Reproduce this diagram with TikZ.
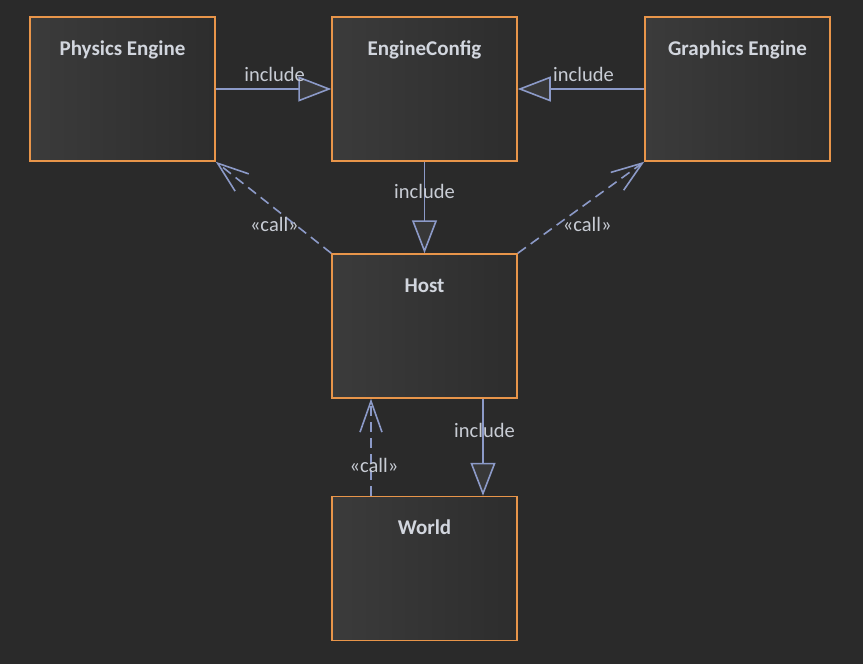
\documentclass[tikz,border=0pt]{standalone}
\usepackage{fontspec}
\setmainfont{Carlito}
\usepackage{xcolor}
\usepackage{tikz}
\usetikzlibrary{arrows.meta}
\definecolor{bgdark}{HTML}{2A2A2A}
\definecolor{boxedge}{HTML}{E8954A}
\definecolor{boxleft}{HTML}{3B3B3B}
\definecolor{boxright}{HTML}{2D2D2D}
\definecolor{tipfill}{HTML}{383838}
\definecolor{linkblue}{HTML}{8C9AC8}
\definecolor{titletext}{HTML}{D2D6DE}
\definecolor{labeltext}{HTML}{C8CCD4}

\begin{document}
\begin{tikzpicture}[x=1pt, y=-1pt,
    box/.style={draw=boxedge, line width=1.5pt, left color=boxleft, right color=boxright,
        minimum width=185pt, minimum height=144pt, inner sep=0pt},
    title/.style={text=titletext, font=\fontsize{21}{25}\selectfont\bfseries, anchor=base, inner sep=0pt},
    lbl/.style={text=labeltext, font=\fontsize{20.5}{24}\selectfont, inner sep=0pt},
    inc/.style={draw=linkblue, line width=1.6pt, -{Triangle[length=33pt, width=25pt, fill=tipfill]}},
    call/.style={draw=linkblue, line width=1.6pt, dash pattern=on 10pt off 6pt,
        -{Straight Barb[length=31pt, width=22pt]}}]
    \fill [bgdark] (0, 0) rectangle (863, 664);
    \useasboundingbox (0, 0) rectangle (863, 664);

    \node [box] (phys) at (122.5, 89) {};
    \node [title] (physT) at ([yshift=-39pt]phys.north) {Physics Engine};
    \node [box] (cfg) at (424.5, 89) {};
    \node [title] (cfgT) at ([yshift=-39pt]cfg.north) {EngineConfig};
    \node [box] (gfx) at (737.5, 89) {};
    \node [title] (gfxT) at ([yshift=-39pt]gfx.north) {Graphics Engine};
    \node [box] (host) at (424.5, 326) {};
    \node [title] (hostT) at ([yshift=-39pt]host.north) {Host};
    \node [box] (world) at (424.5, 568.5) {};
    \node [title] (worldT) at ([yshift=-39pt]world.north) {World};

    \draw [inc] (phys) -- node [lbl, pos=0.51, anchor=base, yshift=8pt] (incPhys) {include} (cfg);
    \draw [inc] (gfx) -- node [lbl, pos=0.48, anchor=base, yshift=8pt] (incGfx) {include} (cfg);
    \draw [inc] (cfg) -- node [lbl, pos=0.4, anchor=base] (incCfg) {include} (host);
    \draw [inc] ([xshift=58.5pt]host.south) -- node [lbl, pos=0.4, anchor=base, xshift=1.5pt] (incHost) {include} ([xshift=58.5pt]world.north);

    \draw [call] (host.north west) -- node [lbl, pos=0.24, anchor=base east, xshift=-4pt] (callPhys) {«call»} (phys.south east);
    \draw [call] (host.north east) -- node [lbl, pos=0.24, anchor=base west, xshift=14pt] (callGfx) {«call»} (gfx.south west);
    \draw [call] ([xshift=-53.5pt]world.north) -- node [lbl, pos=0.24, anchor=base, xshift=3pt] (callWorld) {«call»} ([xshift=-53.5pt]host.south);
\end{tikzpicture}
\end{document}
